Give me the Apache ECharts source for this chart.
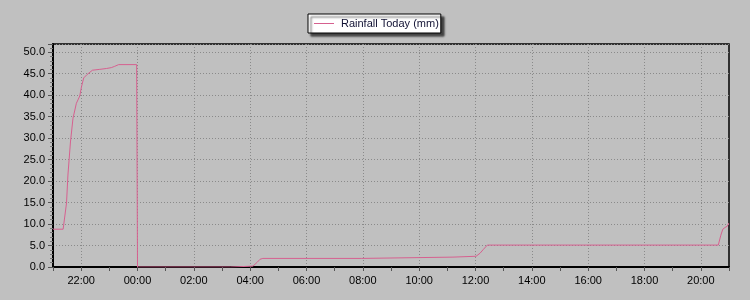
<!DOCTYPE html>
<html>
<head>
<meta charset="utf-8">
<script src="https://cdn.jsdelivr.net/npm/echarts@6/dist/echarts.min.js"></script>
<style>
html,body{margin:0;padding:0;background:#c0c0c0;}
#chart{width:750px;height:300px;}
</style>
</head>
<body>
<div id="chart"></div>
<script>
// Hours since midnight of day 1 (24 = 00:00 next day)
const hours = [21.00, 21.36, 21.48, 21.53, 21.62, 21.71, 21.83, 21.95, 22.01, 22.09, 22.21, 22.40, 22.66, 22.90, 23.07, 23.19, 23.33, 23.97,
  24.00, 27.31, 27.33, 28.10, 28.15, 28.25, 28.35, 28.45, 31.96, 31.98, 35.20, 35.22, 36.02, 36.16, 36.28, 36.42, 44.62, 44.71, 44.78, 44.86, 44.94, 44.99];
const rain = [8.8, 8.8, 14.9, 21.4, 29.1, 34.6, 38.1, 39.8, 41.9, 44.0, 44.8, 45.8, 46.0, 46.2, 46.4, 46.7, 47.1, 47.1,
  0.0, 0.0, 0.2, 0.2, 0.5, 1.1, 1.8, 2.0, 2.0, 2.3, 2.3, 2.5, 2.5, 3.2, 4.1, 5.1, 5.1, 7.4, 8.8, 9.2, 9.5, 10.2];
const seriesName = 'Rainfall Today (mm)';
const yTicks = [0, 5, 10, 15, 20, 25, 30, 35, 40, 45, 50];

const chart = echarts.init(document.getElementById('chart'), null, {renderer: 'canvas'});
const fontFamily = '"Liberation Sans", Arial, sans-serif';
chart.setOption({
  backgroundColor: '#c0c0c0',
  animation: false,
  legend: {
    data: [seriesName],
    left: 308,
    top: 14,
    padding: [4, 2, 4, 6],
    itemWidth: 20,
    itemHeight: 1,
    icon: 'rect',
    itemGap: 5,
    backgroundColor: '#ffffff',
    borderColor: '#000000',
    borderWidth: 1,
    shadowColor: 'rgba(0,0,0,0.65)',
    shadowBlur: 2,
    shadowOffsetX: 3,
    shadowOffsetY: 3,
    textStyle: {fontFamily: fontFamily, fontSize: 11, color: '#111133', padding: [0,0,0,2]}
  },
  grid: {
    left: 53, right: 21, top: 44, bottom: 33,
    show: true, borderColor: '#000', borderWidth: 1.5, backgroundColor: 'transparent'
  },
  xAxis: {
    type: 'value',
    min: 21, max: 45, interval: 1,
    axisLine: {show: true, onZero: false, lineStyle: {color: '#000', width: 2}},
    axisTick: {show: true, length: 4, lineStyle: {color: '#555', width: 1}},
    axisLabel: {
      fontFamily: fontFamily, fontSize: 11, color: '#000', margin: 8,
      formatter: function (v) {
        if (Math.round(v) % 2 !== 0) return '';
        const h = Math.round(v) % 24;
        return (h < 10 ? '0' : '') + h + ':00';
      }
    },
    splitLine: {show: true, lineStyle: {color: ['rgba(0,0,0,0)', '#8a8a8a'], type: [1, 2], width: 1}}
  },
  yAxis: {
    type: 'value',
    min: 0, max: 51.9, interval: 5,
    axisLine: {show: true, lineStyle: {color: '#000', width: 2}},
    axisTick: {show: true, length: 5, lineStyle: {color: '#555'}},
    minorTick: {show: true, splitNumber: 5, length: 3, lineStyle: {color: '#777'}},
    axisLabel: {
      fontFamily: fontFamily, fontSize: 11, color: '#000', margin: 8, showMaxLabel: false,
      formatter: function (v) { return yTicks.indexOf(v) >= 0 ? v.toFixed(1) : ''; }
    },
    splitLine: {show: true, lineStyle: {color: '#8a8a8a', type: [1, 2], width: 1}}
  },
  series: [{
    name: seriesName,
    type: 'line',
    data: hours.map((h, i) => [h, rain[i]]),
    showSymbol: false,
    symbol: 'none',
    lineStyle: {color: '#d6608f', width: 1},
    itemStyle: {color: '#d6608f'}
  }]
});
</script>
</body>
</html>
